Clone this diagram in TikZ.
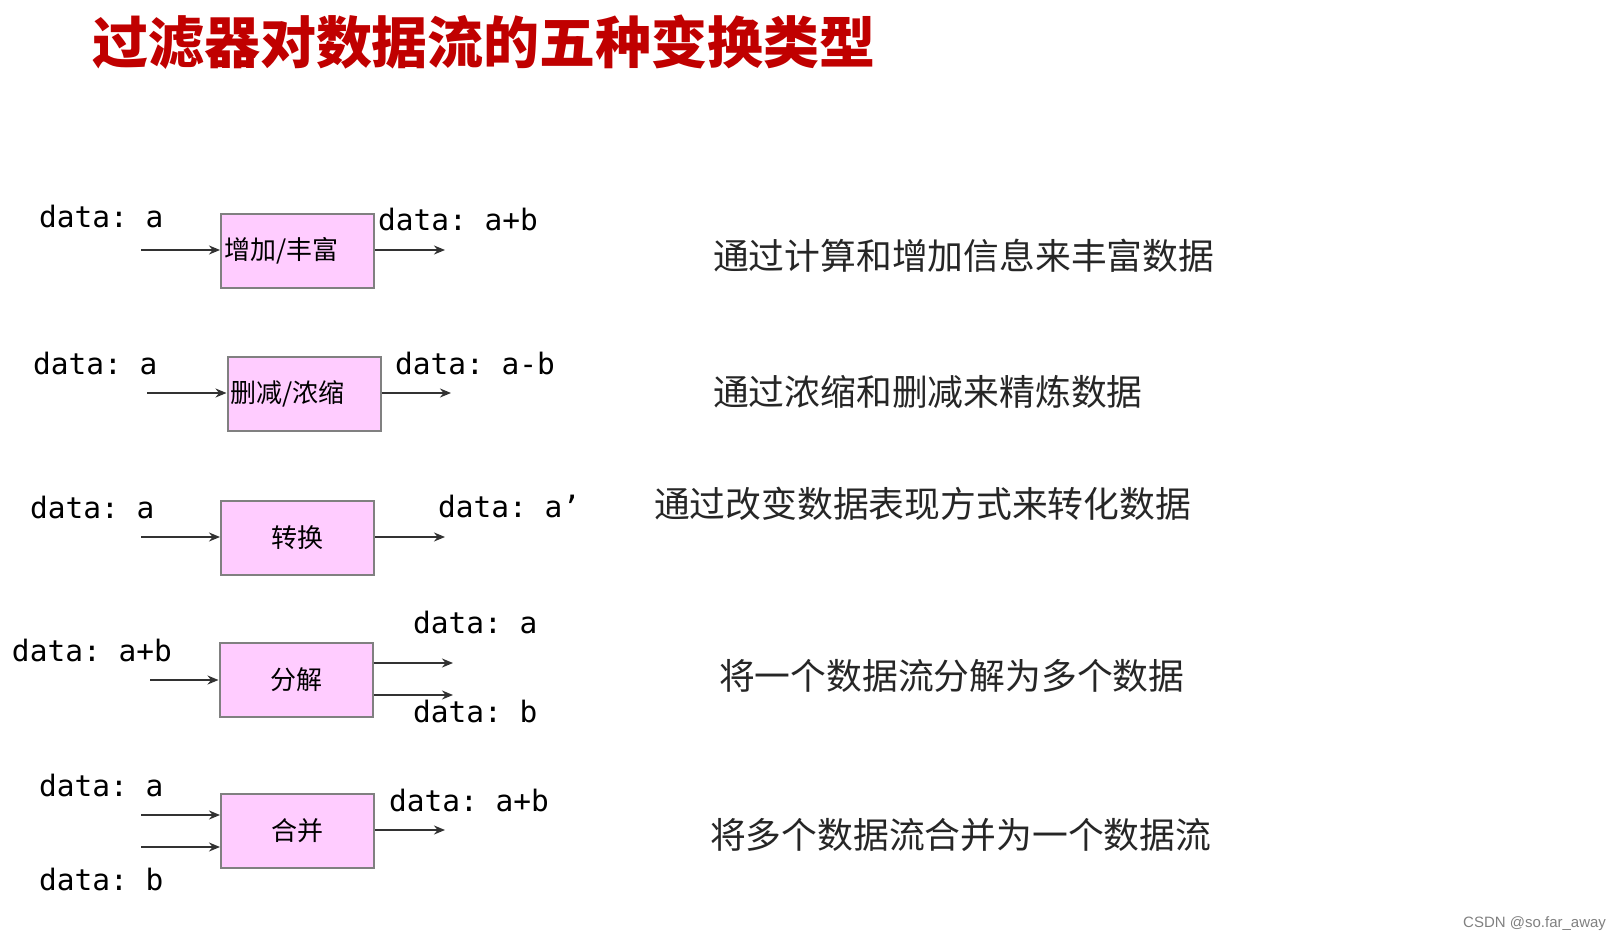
\documentclass[tikz,border=0pt]{standalone}
\usepackage{fontspec}
\setmonofont{DejaVu Sans Mono}
\newfontfamily\cjk{Noto Sans CJK SC}
\newfontfamily\wmfont{Liberation Sans}
\usetikzlibrary{arrows.meta, positioning}
\definecolor{titlered}{RGB}{192,0,0}
\definecolor{boxpink}{RGB}{255,204,255}
\definecolor{boxline}{RGB}{128,128,128}
\definecolor{flowline}{RGB}{50,50,50}

\begin{document}
\begin{tikzpicture}[x=1pt, y=-1pt, >={Stealth[length=11pt,width=9pt]}, line width=2pt]
\tikzset{filt/.style={draw=boxline, fill=boxpink, minimum width=153pt, minimum height=74pt, inner sep=0, font=\cjk\fontsize{26}{26}\selectfont}, filtleft/.style={filt, text width=147pt, align=left}, dat/.style={anchor=west, inner sep=0, font=\ttfamily\fontsize{29.5}{30}\selectfont}, desc/.style={anchor=west, inner sep=0, text=black!85, font=\cjk\fontsize{35.8}{36}\selectfont}, flow/.style={->, draw=flowline, line width=2.2pt}}
\useasboundingbox (0,0) rectangle (1623,944);
\node[anchor=west, inner sep=0, text=titlered, font=\cjk\bfseries\fontsize{56}{56}\selectfont] (T) at (91,42) {过滤器对数据流的五种变换类型};
% enrich
\node[filtleft] (B1) at (297.5,251) {增加/丰富};
\coordinate (i1) at (141,250); \coordinate (o1) at (445,250);
\draw[flow] (i1) -- (i1 -| B1.west); \draw[flow] (o1 -| B1.east) -- (o1);
\node[dat] (a1) at (38,217) {data: a}; \node[dat] (r1) at (377,220) {data: a+b};
\node[desc] (d1) at (712,256) {通过计算和增加信息来丰富数据};
% reduce
\node[filtleft] (B2) at (304,394) {删减/浓缩};
\coordinate (i2) at (147,393); \coordinate (o2) at (451,393);
\draw[flow] (i2) -- (i2 -| B2.west); \draw[flow] (o2 -| B2.east) -- (o2);
\node[dat] (a2) at (32,364) {data: a}; \node[dat] (r2) at (394,364) {data: a-b};
\node[desc] (d2) at (712,392) {通过浓缩和删减来精炼数据};
% transform
\node[filt] (B3) at (297.5,537.5) {转换};
\coordinate (i3) at (141,537); \coordinate (o3) at (445,537);
\draw[flow] (i3) -- (i3 -| B3.west); \draw[flow] (o3 -| B3.east) -- (o3);
\node[dat] (a3) at (29,507) {data: a}; \node[dat] (r3) at (437,506) {data: a’};
\node[desc] (d3) at (653,504) {通过改变数据表现方式来转化数据};
% split
\node[filt] (B4) at (296,679.5) {分解};
\coordinate (i4) at (150,680); \coordinate (o4a) at (453,663); \coordinate (o4b) at (453,695);
\draw[flow] (i4) -- (i4 -| B4.west); \draw[flow] (o4a -| B4.east) -- (o4a); \draw[flow] (o4b -| B4.east) -- (o4b);
\node[dat] (a4) at (11,650) {data: a+b}; \node[dat] (r4a) at (412,622) {data: a}; \node[dat] (r4b) at (412,711) {data: b};
\node[desc] (d4) at (718,676) {将一个数据流分解为多个数据};
% merge
\node[filt] (B5) at (297.5,830.5) {合并};
\coordinate (i5a) at (141,815); \coordinate (i5b) at (141,847); \coordinate (o5) at (445,830);
\draw[flow] (i5a) -- (i5a -| B5.west); \draw[flow] (i5b) -- (i5b -| B5.west); \draw[flow] (o5 -| B5.east) -- (o5);
\node[dat] (a5a) at (38,785) {data: a}; \node[dat] (a5b) at (38,879) {data: b}; \node[dat] (r5) at (388,800) {data: a+b};
\node[desc] (d5) at (709,835) {将多个数据流合并为一个数据流};
\node[anchor=east, inner sep=0, text=gray, font=\wmfont\fontsize{15}{15}\selectfont] (W) at (1607,924) {CSDN @so.far\_away};
\end{tikzpicture}
\end{document}
